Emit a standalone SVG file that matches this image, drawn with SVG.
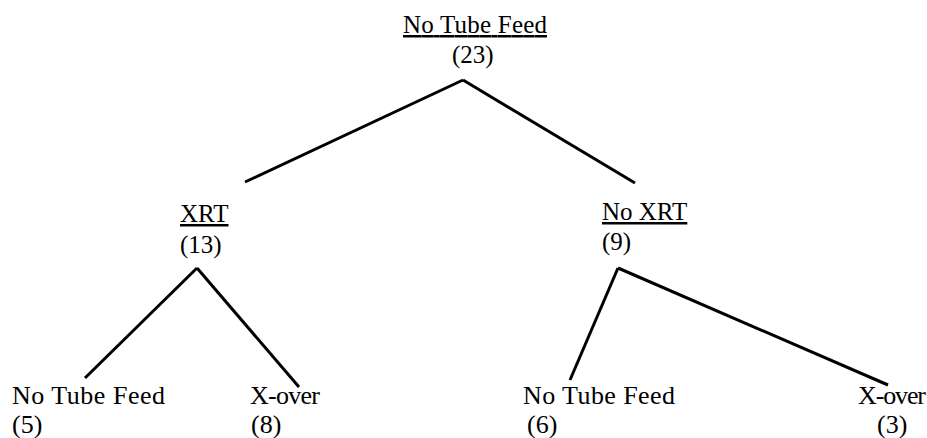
<svg xmlns="http://www.w3.org/2000/svg" width="927" height="438" viewBox="0 0 927 438">
<style>
text{font-family:"Liberation Serif","Times New Roman",serif;font-size:25px;fill:#000}
.b{font-size:26px}
.u{text-decoration:underline}
.c line{stroke:#000;stroke-width:3;stroke-linecap:butt}
</style>
<rect width="927" height="438" fill="#fff"/>
<g class="c" id="connectors">
<line x1="463" y1="80" x2="245" y2="182"/>
<line x1="463" y1="80" x2="635" y2="183"/>
<line x1="197" y1="268" x2="85" y2="378"/>
<line x1="197" y1="268" x2="299" y2="387"/>
<line x1="618" y1="268" x2="570" y2="380"/>
<line x1="618" y1="268" x2="888" y2="385"/>
</g>
<g id="root"><text x="403" y="33" class="u" textLength="144">No Tube Feed</text><text x="452" y="63">(23)</text></g>
<g id="xrt"><text x="180" y="222" class="u">XRT</text><text x="180" y="253">(13)</text></g>
<g id="noxrt"><text x="602" y="220" class="u">No XRT</text><text x="602" y="250">(9)</text></g>
<g id="l1"><text class="b" x="12" y="404" textLength="153">No Tube Feed</text><text class="b" x="12" y="433">(5)</text></g>
<g id="l2"><text class="b" x="250" y="404" textLength="70">X-over</text><text class="b" x="251" y="433">(8)</text></g>
<g id="l3"><text class="b" x="523" y="404" textLength="152">No Tube Feed</text><text class="b" x="527" y="433">(6)</text></g>
<g id="l4"><text class="b" x="858" y="404" textLength="68">X-over</text><text class="b" x="877" y="433">(3)</text></g>
</svg>
